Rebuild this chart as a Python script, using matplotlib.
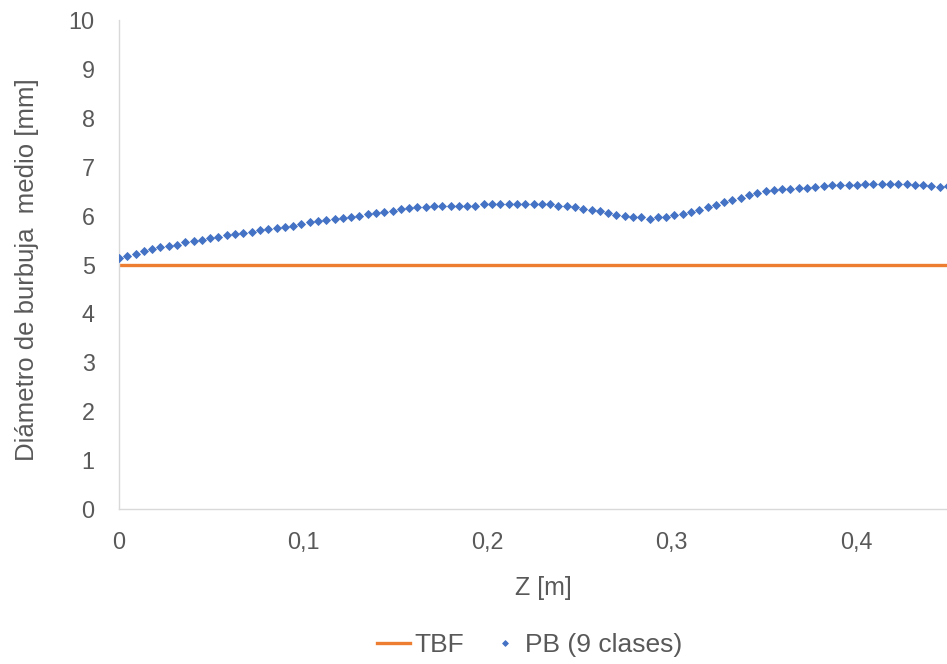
import numpy as np
import matplotlib
matplotlib.use("Agg")
import matplotlib.pyplot as plt
from matplotlib.ticker import FuncFormatter

plt.rcParams['font.family'] = ['Liberation Sans', 'DejaVu Sans']

# Axial position step and mean bubble diameter along the column
z_step = 0.0045
pb_diameter = [
    5.13, 5.17, 5.22, 5.28, 5.32, 5.35, 5.37, 5.40, 5.45, 5.48,
    5.50, 5.55, 5.57, 5.60, 5.62, 5.64, 5.67, 5.71, 5.73, 5.75,
    5.77, 5.79, 5.83, 5.86, 5.88, 5.90, 5.93, 5.95, 5.98, 6.00,
    6.03, 6.05, 6.07, 6.10, 6.13, 6.15, 6.18, 6.18, 6.20, 6.20,
    6.20, 6.20, 6.20, 6.20, 6.23, 6.23, 6.23, 6.23, 6.23, 6.23,
    6.23, 6.23, 6.23, 6.20, 6.20, 6.17, 6.14, 6.11, 6.09, 6.06,
    6.01, 5.99, 5.97, 5.97, 5.94, 5.98, 5.97, 6.01, 6.03, 6.07,
    6.12, 6.17, 6.22, 6.27, 6.32, 6.37, 6.43, 6.46, 6.50, 6.52,
    6.55, 6.55, 6.57, 6.57, 6.59, 6.61, 6.63, 6.63, 6.63, 6.63,
    6.65, 6.65, 6.65, 6.65, 6.65, 6.65, 6.63, 6.63, 6.61, 6.59,
    6.61,
]
tbf_z = [0.0, 0.45]
tbf_diameter = [5.0, 5.0]

x_ticks = [0, 0.1, 0.2, 0.3, 0.4]
y_ticks = list(range(0, 11))

z = np.arange(len(pb_diameter)) * z_step

W, H = 947, 664
fig = plt.figure(figsize=(W / 100, H / 100), dpi=100)
ax = fig.add_axes([119 / W, (H - 509) / H, (948 - 119) / W, 489 / H])

text_color = '#595959'
orange = '#ED7D31'
blue = '#4472C4'

ax.plot(tbf_z, tbf_diameter, color=orange, lw=2.4, label='TBF', zorder=2)
ax.plot(z, pb_diameter, ls='none', marker='D', ms=3.7, mew=0.6,
        color=blue, mec=blue, label='PB (9 clases)', zorder=3)

ax.set_xlim(0, 0.45)
ax.set_ylim(0, 10)
ax.set_xticks(x_ticks)
ax.set_yticks(y_ticks)
ax.xaxis.set_major_formatter(FuncFormatter(
    lambda v, p: '0' if v == 0 else f'{v:.1f}'.replace('.', ',')))

for s in ['top', 'right']:
    ax.spines[s].set_visible(False)
for s in ['left', 'bottom']:
    ax.spines[s].set_color('#d9d9d9')
    ax.spines[s].set_linewidth(1.0)

ax.tick_params(axis='both', length=0, labelsize=16.8, colors=text_color)
ax.tick_params(axis='y', pad=17.5)
ax.tick_params(axis='x', pad=16)

ax.set_xlabel('Z [m]', fontsize=18, color=text_color)
ax.xaxis.set_label_coords((543 - 119) / 829, (509 - 588) / 489)
ax.xaxis.label.set_va('center')
ax.set_ylabel('Diámetro de burbuja  medio [mm]', fontsize=18.5, color=text_color)
ax.yaxis.set_label_coords((27 - 119) / 829, (509 - 270) / 489)
ax.yaxis.label.set_va('center')

leg = ax.legend(loc='center', bbox_to_anchor=((530 - 119) / 829, (509 - 645) / 489),
                ncol=2, frameon=False, fontsize=19, handlelength=1.25,
                handletextpad=0.15, columnspacing=0.93, markerscale=0.8)
for t in leg.get_texts():
    t.set_color(text_color)

fig.savefig('out.png', dpi=100)
